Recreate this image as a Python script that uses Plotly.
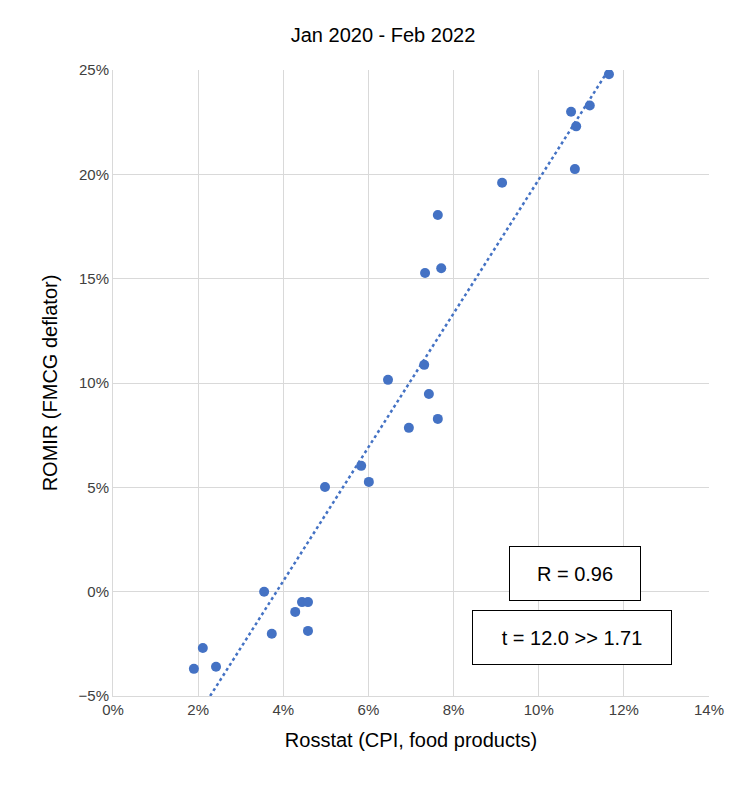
import numpy as np
import plotly.graph_objects as go

# Rosstat CPI (food) vs ROMIR FMCG deflator, % y/y
rosstat = [11.65, 10.76, 11.2, 10.88, 10.85, 9.14, 7.63, 7.71, 7.33, 6.46, 7.31, 7.42, 7.63,
           6.95, 5.83, 6.01, 4.98, 3.55, 4.44, 4.58, 4.28, 3.73, 4.58, 2.11, 2.42, 1.9]
romir = [24.8, 23.0, 23.3, 22.3, 20.25, 19.6, 18.05, 15.5, 15.27, 10.15, 10.87, 9.47, 8.28,
         7.85, 6.03, 5.26, 5.02, 0.0, -0.5, -0.5, -0.97, -2.02, -1.88, -2.7, -3.6, -3.7]

x = np.array(rosstat) / 100
y = np.array(romir) / 100
k, b = np.polyfit(x, y, 1)
y_lo, y_hi = -0.05, 0.25
xt = np.array([(y_lo - b) / k, (y_hi - b) / k])

fig = go.Figure()
fig.add_trace(go.Scatter(x=xt, y=k * xt + b, mode='lines',
                         line=dict(color='#4472C4', width=2.5, dash='dot'), hoverinfo='skip'))
fig.add_trace(go.Scatter(x=x, y=y, mode='markers',
                         marker=dict(color='#4472C4', size=10)))

box = dict(bordercolor='black', borderwidth=1, bgcolor='white', borderpad=10,
           font=dict(size=20, color='black'), showarrow=False, xref='paper', yref='paper',
           xanchor='center', yanchor='middle', height=33)
fig.add_annotation(text='R = 0.96', x=0.775, y=0.196, width=110, **box)
fig.add_annotation(text='t = 12.0 >> 1.71', x=0.77, y=0.094, width=178, **box)

axis = dict(showgrid=True, gridcolor='#d9d9d9', gridwidth=1, zeroline=False,
            tickformat='.0%', tickfont=dict(size=15, color='#404040'),
            showline=True, linecolor='#d9d9d9', ticks='')
fig.update_layout(
    width=750, height=794, showlegend=False,
    plot_bgcolor='white', paper_bgcolor='white',
    font=dict(family='Liberation Sans, Arial', color='black'),
    margin=dict(l=105, r=49, t=62, b=106),
    title=dict(text='Jan 2020 - Feb 2022', x=0.5, xanchor='center', y=0.975,
               font=dict(size=20)),
    xaxis=dict(axis, range=[0, 0.14], dtick=0.02,
               title=dict(text='Rosstat (CPI, food products)', font=dict(size=20))),
    yaxis=dict(axis, range=[y_lo, y_hi], dtick=0.05,
               title=dict(text='ROMIR (FMCG deflator)', font=dict(size=20))),
)
fig.write_html("out.html")
